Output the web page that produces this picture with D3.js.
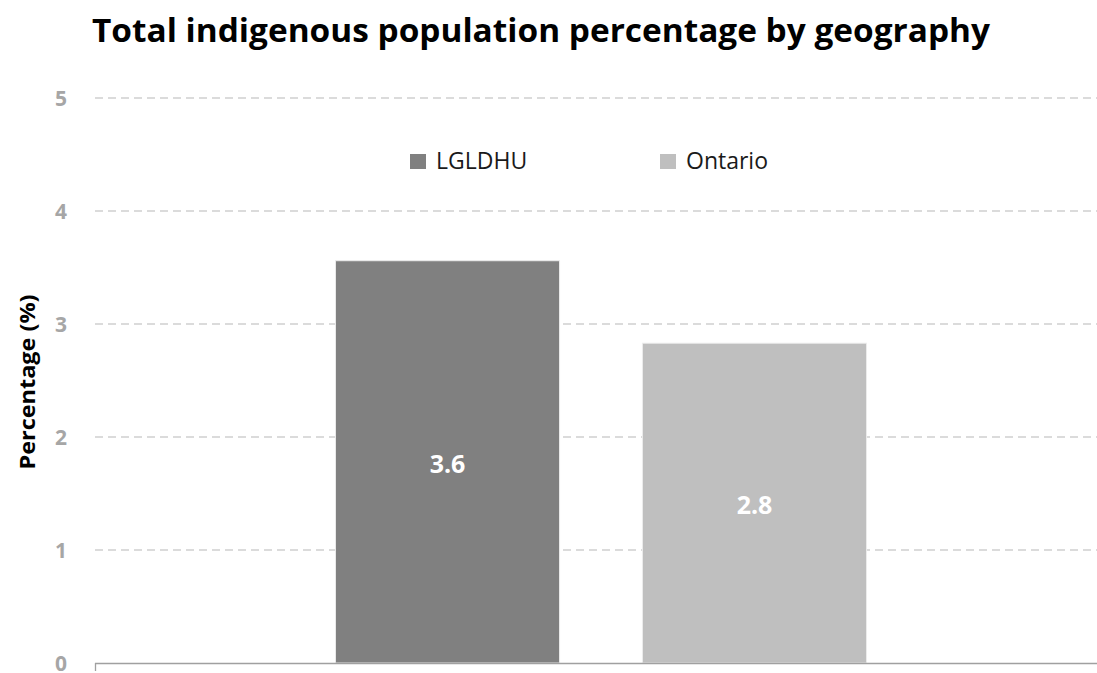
<!DOCTYPE html>
<html><head><meta charset="utf-8">
<script src="https://cdn.jsdelivr.net/npm/d3@7"></script>
<style>body{margin:0;background:#fff;} svg{display:block;font-family:"Open Sans",Calibri,sans-serif;}</style>
</head><body>
<svg id="c" width="1097" height="673"></svg>
<script>
const series = ["LGLDHU", "Ontario"];
const values = [3.56, 2.83];
const labels = ["3.6", "2.8"];
const colors = ["#808080", "#bfbfbf"];
const yTicks = [0, 1, 2, 3, 4, 5];
const title = "Total indigenous population percentage by geography";
const yTitle = "Percentage (%)";

const svg = d3.select("#c");
const plot = {left: 95, right: 1097, top: 98, bottom: 663};

const y = d3.scaleLinear().domain([0, 5]).range([plot.bottom, plot.top]);
const x = d3.scaleBand().domain(series).range([100, 1102]).paddingInner(0.27).paddingOuter(0.767);

// title
svg.append("text").attr("x", 92).attr("y", 42).text(title)
  .attr("font-size", 33).attr("font-weight", "bold").attr("fill", "#000")
  .attr("textLength", 898).attr("lengthAdjust", "spacingAndGlyphs");

// gridlines
svg.append("g").selectAll("line").data(yTicks.filter(d => d > 0)).join("line")
  .attr("x1", plot.left).attr("x2", plot.right)
  .attr("y1", d => y(d)).attr("y2", d => y(d))
  .attr("stroke", "#cfcfcf").attr("stroke-width", 1.3).attr("stroke-dasharray", "8,5");

// y axis labels
const yAxis = d3.axisLeft(y).tickValues(yTicks).tickFormat(d3.format("d")).tickSize(0).tickPadding(0);
const gy = svg.append("g").attr("transform", `translate(67,0)`).call(yAxis);
gy.select(".domain").remove();
gy.selectAll("text").attr("font-size", 21).attr("font-weight", "bold").attr("fill", "#a6a6a6")
  .attr("font-family", "'Open Sans',sans-serif").attr("dy", "0.35em");

// bars
svg.append("g").selectAll("rect").data(series).join("rect")
  .attr("x", d => x(d)).attr("width", x.bandwidth())
  .attr("y", (d, i) => y(values[i])).attr("height", (d, i) => y(0) - y(values[i]))
  .attr("fill", (d, i) => colors[i]).attr("stroke", "#ececec").attr("stroke-width", 1);

// baseline
svg.append("line").attr("x1", plot.left).attr("x2", plot.right)
  .attr("y1", plot.bottom + 0.5).attr("y2", plot.bottom + 0.5)
  .attr("stroke", "#a0a0a0").attr("stroke-width", 1.3);
svg.append("line").attr("x1", plot.left + 0.5).attr("x2", plot.left + 0.5)
  .attr("y1", plot.bottom).attr("y2", plot.bottom + 8)
  .attr("stroke", "#a0a0a0").attr("stroke-width", 1.3);

// data labels
svg.append("g").selectAll("text").data(series).join("text")
  .attr("x", d => x(d) + x.bandwidth() / 2)
  .attr("y", (d, i) => (y(values[i]) + y(0)) / 2 + 2)
  .attr("dy", "0.35em").attr("text-anchor", "middle")
  .attr("font-size", 25).attr("font-weight", "bold").attr("fill", "#fff")
  .text((d, i) => labels[i]);

// y title
svg.append("text").attr("transform", `translate(35,382) rotate(-90)`)
  .attr("text-anchor", "middle").attr("font-size", 22).attr("font-weight", "bold").attr("fill", "#000")
  .attr("textLength", 175).attr("lengthAdjust", "spacingAndGlyphs")
  .text(yTitle);

// legend
const legX = [410, 660];
const lg = svg.append("g").selectAll("g").data(series).join("g")
  .attr("transform", (d, i) => `translate(${legX[i]},162)`);
lg.append("rect").attr("x", 0).attr("y", -8).attr("width", 16).attr("height", 15)
  .attr("fill", (d, i) => colors[i]);
lg.append("text").attr("x", 26).attr("y", 7).attr("font-size", 23).attr("fill", "#1a1a1a")
  .text(d => d);
</script>
</body></html>
